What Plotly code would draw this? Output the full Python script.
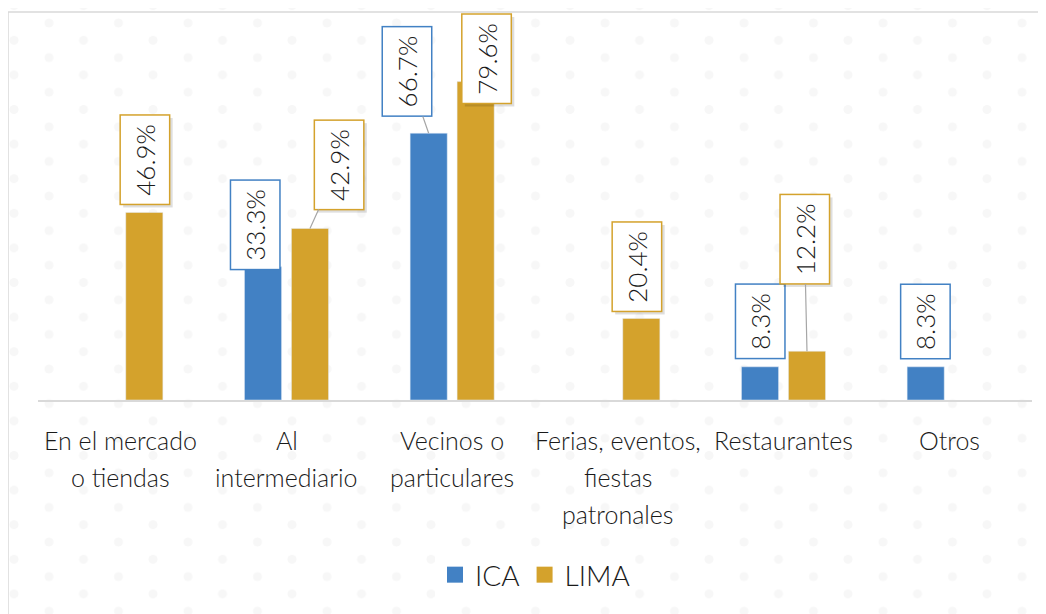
import base64
import plotly.graph_objects as go

categories = ["En el mercado<br>o tiendas", "Al<br>intermediario", "Vecinos o<br>particulares",
              "Ferias, eventos,<br>fiestas<br>patronales", "Restaurantes", "Otros"]
ica = [None, 33.3, 66.7, None, 8.3, 8.3]
lima = [46.9, 42.9, 79.6, 20.4, 12.2, None]

ICA_COLOR = "#4281C4"
LIMA_COLOR = "#D4A22C"
FONT = "Lato Light, Lato"

W, H = 1038, 606
ML, MR, MT, MB = 30, 14, 32, 214
BARGAP, GROUPGAP = 0.433, 0.21
YMAX = 90

fig = go.Figure()
fig.add_trace(go.Bar(name="ICA", x=categories, y=ica, marker_color=ICA_COLOR, showlegend=False))
fig.add_trace(go.Bar(name="LIMA", x=categories, y=lima, marker_color=LIMA_COLOR, showlegend=False))
# legend entries with larger square swatches
for name, color in (("ICA", ICA_COLOR), ("LIMA", LIMA_COLOR)):
    fig.add_trace(go.Scatter(name=name, x=[None], y=[None], mode="markers",
                             marker=dict(symbol="square", size=16, color=color)))

plot_w = W - ML - MR
plot_h = H - MT - MB
catw = plot_w / len(categories)
off = (1 - BARGAP) * catw / 4

# label box offsets (pixels) relative to bar top: (ax, ay, show leader)
label_pos = {
    ("ICA", 1): (-7.5, -42, False), ("ICA", 2): (-21.5, -61.5, True),
    ("ICA", 4): (0.5, -45, False), ("ICA", 5): (0, -45, False),
    ("LIMA", 0): (0.5, -53, False), ("LIMA", 1): (29, -64, True),
    ("LIMA", 2): (10.5, -22.5, False), ("LIMA", 3): (-4.5, -52, False),
    ("LIMA", 4): (-2.5, -112, True),
}

label_font = dict(family=FONT, size=26, color="#1a1a1a", weight=300)
annotations = []
for name, vals, color, sign, shadow in (("ICA", ica, ICA_COLOR, -1, False),
                                        ("LIMA", lima, LIMA_COLOR, 1, True)):
    for i, v in enumerate(vals):
        if v is None:
            continue
        ax, ay, lead = label_pos[(name, i)]
        base = dict(x=categories[i], y=v, xref="x", yref="y", text=f"{v:.1f}%",
                    textangle=-90, showarrow=True, ax=ax, ay=ay, arrowhead=0,
                    borderwidth=1.5, borderpad=8)
        if shadow:
            annotations.append(dict(base, xshift=sign * off + 3, yshift=-3,
                                    arrowcolor="rgba(0,0,0,0)", bgcolor="rgba(0,0,0,0.13)",
                                    bordercolor="rgba(0,0,0,0)",
                                    font=dict(label_font, color="rgba(0,0,0,0)")))
        annotations.append(dict(base, xshift=sign * off, arrowwidth=1.2,
                                arrowcolor="#A6A6A6" if lead else "rgba(0,0,0,0)",
                                bgcolor="white", bordercolor=color, font=label_font))

# category labels with wider line spacing
for c in categories:
    for j, line in enumerate(c.split("<br>")):
        annotations.append(dict(
            x=c, y=0, xref="x", yref="y", yanchor="middle", yshift=-40 - 37 * j,
            text=line, showarrow=False,
            font=dict(family=FONT, size=25, color="#1a1a1a", weight=300),
        ))

# faint dotted background pattern
dot = "#F7F7F7"
svg = (
    f'<svg xmlns="http://www.w3.org/2000/svg" width="{W}" height="{H}">'
    '<defs><pattern id="p" patternUnits="userSpaceOnUse" x="6" y="15" width="69.5" height="34.6">'
    f'<circle cx="35" cy="0" r="4.5" fill="{dot}"/><circle cx="35" cy="34.6" r="4.5" fill="{dot}"/>'
    f'<circle cx="0" cy="17.3" r="4.5" fill="{dot}"/><circle cx="69.5" cy="17.3" r="4.5" fill="{dot}"/>'
    '</pattern></defs>'
    f'<rect width="{W}" height="{H}" fill="url(#p)"/></svg>'
)
src = "data:image/svg+xml;base64," + base64.b64encode(svg.encode()).decode()

fig.update_layout(
    width=W, height=H,
    margin=dict(l=ML, r=MR, t=MT, b=MB),
    paper_bgcolor="white", plot_bgcolor="rgba(0,0,0,0)",
    barmode="group", bargap=BARGAP, bargroupgap=GROUPGAP,
    showlegend=True,
    legend=dict(orientation="h", x=0.5, xanchor="center", y=-0.486, yanchor="middle",
                font=dict(family=FONT, size=28, color="#1a1a1a", weight=300),
                itemwidth=30, traceorder="normal"),
    xaxis=dict(showticklabels=False, showline=True, linecolor="#D9D9D9", linewidth=1.5,
               ticks="", showgrid=False, zeroline=False),
    yaxis=dict(range=[0, YMAX], visible=False, showgrid=False, zeroline=False),
    annotations=annotations,
    images=[dict(source=src, xref="paper", yref="paper",
                 x=-ML / plot_w, y=1 + MT / plot_h, sizex=W / plot_w, sizey=H / plot_h,
                 xanchor="left", yanchor="top", sizing="stretch", layer="below")],
    shapes=[dict(type="rect", xref="paper", yref="paper",
                 x0=(0 - ML) / plot_w, x1=1.2, y0=-1.0, y1=1 + (MT - 4) / plot_h,
                 line=dict(color="#D9D9D9", width=1.5), fillcolor="rgba(0,0,0,0)", layer="below")],
)

fig.write_html("out.html")
